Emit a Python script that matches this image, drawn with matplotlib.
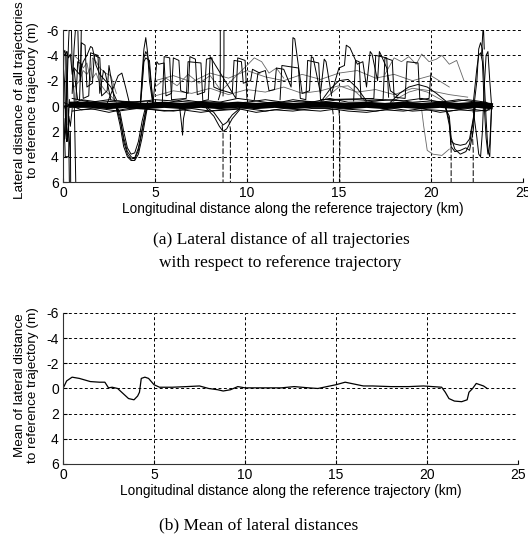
import matplotlib
matplotlib.use('Agg')
import matplotlib.pyplot as plt

plt.rcParams['font.family'] = ['Liberation Sans', 'DejaVu Sans']
plt.rcParams['axes.unicode_minus'] = False

# ---- data ----
x_ticks = [0, 5, 10, 15, 20, 25]
y_ticks = [-6, -4, -2, 0, 2, 4, 6]

# central band of trajectories
band_x1 = [0, 1, 2, 3, 4, 5, 6, 7, 8, 9, 10, 11, 12, 13, 14, 15, 16, 17, 18, 19, 20, 21, 22, 23, 23.3]
band_a = [0.2, -0.5, -0.3, -0.4, -0.3, -0.5, -0.4, -0.3, -0.4, -0.2, -0.3, -0.5, -0.3, -0.4, -0.3, -0.5, -0.5, -0.4, -0.5, -0.3, -0.4, -0.3, -0.5, -0.3, 0.0]
band_b = [-0.3, 0.3, 0.2, 0.4, 0.2, 0.3, 0.4, 0.2, 0.4, 0.3, 0.2, 0.4, 0.2, 0.3, 0.4, 0.2, 0.3, 0.4, 0.2, 0.4, 0.3, 0.4, 0.2, 0.4, 0.1]
band_f = [0.0, -0.1, 0.1, 0.0, -0.1, 0.1, 0.0, 0.1, -0.1, 0.0, 0.1, -0.1, 0.0, 0.1, 0.0, -0.1, 0.1, 0.0, -0.1, 0.1, 0.0, -0.1, 0.1, 0.0, 0.0]
band_x2 = [0.5, 1.5, 2.5, 3.5, 4.5, 5.5, 6.5, 7.5, 8.5, 9.5, 10.5, 11.5, 12.5, 13.5, 14.5, 15.5, 16.5, 17.5, 18.5, 19.5, 20.5, 21.5, 22.5, 23.2]
band_c = [-0.6, -0.3, -0.5, -0.3, -0.4, -0.2, -0.5, -0.3, -0.3, -0.6, -0.4, -0.2, -0.5, -0.3, -0.6, -0.3, -0.3, -0.5, -0.4, -0.6, -0.3, -0.5, -0.3, -0.2]
band_d = [0.4, 0.2, 0.5, 0.2, 0.2, 0.4, 0.3, 0.5, 0.3, 0.2, 0.5, 0.3, 0.4, 0.2, 0.2, 0.4, 0.5, 0.3, 0.4, 0.2, 0.5, 0.3, 0.4, 0.3]
band_e = [-0.1, -0.1, 0.0, -0.1, 0.0, -0.1, 0.0, -0.1, 0.0, -0.1, 0.0, -0.1, 0.0, -0.1, -0.1, 0.0, -0.1, 0.0, -0.1, 0.0, -0.1, 0.0, -0.1, 0.0]

# left edge (0 - 1 km)
edge_x1 = [0.0, 0.05, 0.1, 0.15, 0.2, 0.25, 0.3, 0.35]
edge_y1 = [0.0, -4.2, -4.4, -4.0, 2.8, 2.5, 1.0, 6.5]
edge_x2 = [0.0, 0.1, 0.12, 0.3, 0.4, 0.42, 0.5]
edge_y2 = [0.5, 3.0, 4.0, 4.0, 2.0, 6.5, 6.5]
edge_x3 = [0.2, 0.3, 0.35, 0.45, 0.5, 0.6, 0.65, 0.7]
edge_y3 = [-0.5, -5.0, -6.5, -6.5, -3.0, -1.0, 2.5, 6.5]
edge_x4 = [0.5, 0.6, 0.7, 0.8, 0.85, 0.95, 1.0, 1.1]
edge_y4 = [-1.0, -4.5, -6.5, -6.5, -3.5, -2.0, -6.5, -6.5]
edge_x5 = [0.0, 0.08, 0.15, 0.22, 0.28, 0.35]
edge_y5 = [-3.5, -2.0, 2.0, -4.3, 1.5, -0.5]
edge_x6 = [0.0, 0.1, 0.2, 0.3, 0.4, 0.5, 0.6, 0.7, 0.8]
edge_y6 = [-4.2, -4.0, -4.3, -3.8, -4.1, -2.5, -3.0, -1.5, -0.5]
edge_x7 = [0.05, 0.1, 0.18, 0.25, 0.32, 0.4, 0.5]
edge_y7 = [1.0, 2.6, 1.5, 2.8, 0.8, 1.6, 0.2]

# upper wandering lines 0.6 - 3.6 km
up_x = [0.6, 0.9, 1.1, 1.3, 1.5, 1.6, 1.8, 2.0, 2.3, 2.6, 2.9]
up_a = [-3.0, -2.5, -3.5, -4.0, -4.7, -4.6, -3.2, -2.5, -2.0, -1.5, -0.5]
up_b = [-1.5, -2.0, -2.8, -2.5, -3.0, -2.2, -2.6, -1.8, -1.2, -0.8, -0.3]
up_c = [-4.0, -3.6, -3.0, -3.4, -2.0, -3.8, -3.5, -3.0, -2.6, -2.4, -1.0]
hump_x = [2.4, 2.7, 3.0, 3.2, 3.4, 3.6]
hump_y = [-0.2, -1.3, -2.4, -2.6, -1.5, -0.3]
comb_fx = [0.9, 1.0, 1.2, 1.3, 1.6, 1.7, 2.0, 2.1, 2.4, 2.5, 2.8]
comb_fy = [-0.5, -5.0, -4.8, -1.5, -1.8, -4.0, -3.8, -0.8, -1.2, -3.2, -0.4]
comb_ix = [0.7, 0.8, 1.0, 1.1, 1.4, 1.5, 1.9, 2.0, 2.2, 2.3, 2.6]
comb_iy = [-0.3, -3.5, -3.3, -0.6, -0.8, -4.2, -4.0, -1.0, -2.8, -2.6, -0.5]

# detour 3 - 4.6 km
dip1_x = [2.9, 3.1, 3.3, 3.5, 3.7, 3.9, 4.1, 4.3, 4.5, 4.6]
dip1_a = [0.0, 0.8, 2.8, 3.8, 4.2, 4.1, 3.3, 1.8, 0.3, -0.2]
dip1_b = [0.2, 1.5, 3.2, 4.0, 4.3, 4.3, 3.8, 2.5, 0.8, 0.0]
dip1_c = [0.0, 0.5, 2.0, 3.3, 3.8, 3.7, 2.8, 1.2, 0.0, -0.3]
dip1_d = [0.1, 1.1, 2.5, 3.6, 4.0, 4.2, 3.5, 2.0, 0.5, 0.1]
spike1_x = [4.2, 4.3, 4.4, 4.5, 4.6, 4.7, 4.9]
spike1_a = [0.0, -2.5, -4.5, -5.4, -4.2, -2.0, 0.0]
spike1_b = [0.2, -2.0, -3.8, -4.3, -4.0, -3.0, -0.2]
spike1_c = [0.0, -1.5, -3.5, -3.8, -3.7, -3.6, 0.1]

# small spike at 6.5 km and detour at 8.7 km
spike2_x = [6.35, 6.45, 6.5, 6.55, 6.65]
spike2_y = [0.2, 1.5, 2.3, 1.0, 0.3]
dip2_x = [7.8, 8.2, 8.5, 8.7, 8.9, 9.2, 9.6]
dip2_a = [0.2, 0.8, 1.6, 2.0, 1.8, 1.0, 0.3]
dip2_b = [0.1, 0.5, 1.1, 1.5, 1.3, 0.7, 0.2]
top_x1 = [8.45, 8.55, 8.55]
top_y1 = [-0.5, -1.0, -6.5]
top_x2 = [8.7, 8.75, 8.75]
top_y2 = [-0.8, -3.0, -6.5]
down_x1 = [8.65, 8.7, 8.7]
down_y1 = [1.5, 2.2, 6.5]
down_x2 = [9.0, 9.1, 9.1]
down_y2 = [1.0, 1.8, 6.5]
down_x3 = [14.65, 14.7, 14.7]
down_y3 = [0.2, 0.8, 6.5]
down_x4 = [15.0, 15.05, 15.05]
down_y4 = [0.3, 1.5, 6.5]

# upper comb-like lines 5 - 21.8 km
comb_ax = [4.9, 5.1, 5.2, 5.5, 5.6, 5.9, 6.0, 6.3, 6.4, 6.8, 6.9, 7.2, 7.3, 7.7, 7.8, 8.1, 8.2, 8.5, 9.2, 9.3, 9.7, 9.8, 10.2, 10.3, 10.7]
comb_ay = [-0.3, -3.5, -3.3, -3.4, -0.8, -1.0, -3.8, -3.6, -1.2, -1.0, -3.9, -3.7, -0.9, -1.1, -3.7, -3.8, -1.5, -1.3, -1.0, -3.6, -3.5, -1.8, -2.0, -2.9, -2.6]
comb_bx = [10.4, 10.6, 11.0, 11.2, 11.5, 11.6, 12.0, 12.4, 12.5, 12.6, 13.0, 13.4, 13.5, 13.6, 14.0, 14.2, 14.3, 14.6]
comb_by = [-0.5, -2.6, -2.8, -1.2, -1.3, -3.0, -2.9, -1.5, -5.4, -5.3, -1.0, -1.2, -3.9, -3.8, -1.0, -3.7, -3.5, -0.8]
comb_cx = [14.6, 15.0, 15.3, 15.4, 15.6, 16.0, 16.3, 16.5, 16.7, 16.8, 17.1, 17.2, 17.3, 17.6, 17.8, 18.2]
comb_cy = [-1.0, -3.0, -3.2, -4.8, -4.6, -3.3, -3.5, -1.5, -4.3, -4.1, -2.0, -4.3, -4.0, -3.0, -1.2, -0.8]
comb_dx = [17.5, 18.0, 18.4, 18.8, 19.2, 19.5, 19.9, 20.3, 20.6, 21.0, 21.4, 21.8]
comb_dy = [-2.5, -3.8, -3.5, -3.9, -3.3, -4.1, -3.5, -3.7, -4.0, -3.3, -3.6, -2.0]
comb_ex = [5.0, 5.6, 6.2, 6.8, 7.4, 8.0, 8.6, 9.5, 10.0, 10.4, 10.8, 11.2, 11.6, 12.0]
comb_ey = [-1.5, -2.2, -1.6, -2.5, -1.8, -2.4, -1.2, -2.5, -3.2, -3.8, -3.5, -2.6, -3.0, -2.2]
comb_gx = [5.4, 5.5, 5.8, 5.9, 6.7, 6.8, 7.5, 7.6, 7.9, 8.0, 9.4, 9.5, 9.9, 10.0]
comb_gy = [-0.3, -3.9, -3.8, -0.5, -0.6, -3.5, -3.4, -0.4, -0.5, -3.9, -0.6, -3.8, -3.6, -0.6]
comb_hx = [15.8, 15.9, 16.1, 16.2, 17.4, 17.5, 17.9, 18.0, 18.6, 18.7, 19.3, 19.4, 19.9, 20.0]
comb_hy = [-0.4, -3.6, -3.5, -0.6, -0.5, -3.8, -3.6, -0.7, -0.6, -3.5, -3.4, -0.5, -0.6, -2.6]
comb_jx = [11.8, 11.9, 12.8, 12.9, 13.2, 13.3, 13.9, 14.0, 16.9, 17.0, 17.6, 17.7]
comb_jy = [-0.5, -3.2, -3.0, -0.6, -0.5, -3.6, -3.4, -0.5, -0.6, -4.0, -3.8, -0.7]
mid_x = [5, 6, 7, 8, 9, 10, 11, 12, 13, 14, 15, 16, 17, 18, 19, 20, 21, 22]
mid_y = [-0.8, -1.2, -1.0, -1.4, -0.9, -1.3, -1.1, -1.5, -1.0, -1.2, -1.6, -1.1, -1.3, -0.9, -1.4, -1.2, -0.9, -0.7]
gray2_x = [5, 6, 7, 8, 9, 10, 11, 12, 13, 14, 15, 16, 17, 18, 19, 20, 21]
gray2_y = [-2.0, -2.4, -1.9, -2.6, -2.2, -2.8, -2.3, -2.0, -2.5, -2.1, -2.6, -2.8, -2.2, -2.5, -2.0, -2.4, -1.5]

# bumps above the band
bump1_x = [14.0, 14.5, 15.0, 15.5, 16.0, 16.5]
bump1_a = [-0.3, -1.3, -2.0, -2.1, -1.4, -0.4]
bump1_b = [-0.2, -0.9, -1.5, -1.6, -1.0, -0.3]
bump2_x = [17.8, 18.3, 18.8, 19.3, 19.8, 20.3, 20.8]
bump2_a = [-0.3, -1.0, -1.5, -1.7, -1.5, -1.0, -0.4]
bump2_b = [-0.2, -0.7, -1.1, -1.3, -1.1, -0.7, -0.3]

# detour 21 - 22.4 km
dip3_x = [20.8, 21.0, 21.1, 21.3, 21.6, 21.9, 22.1, 22.3, 22.4]
dip3_a = [0.1, 1.5, 3.2, 3.6, 3.5, 3.3, 3.5, 2.0, 0.0]
dip3_b = [0.2, 0.8, 2.5, 3.4, 3.8, 3.6, 3.0, 1.2, -0.3]
dip3_c = [0.0, 1.2, 2.8, 3.0, 3.1, 3.0, 2.6, 1.0, 0.1]
loose_x = [19.5, 19.6, 19.8, 20.1, 20.6, 21.0]
loose_y = [0.3, 1.5, 3.5, 3.8, 3.9, 3.4]
down_x5 = [21.05, 21.1, 21.1]
down_y5 = [2.0, 3.5, 6.5]
down_x6 = [22.25, 22.3, 22.3]
down_y6 = [2.0, 3.5, 6.5]

# swing 22.3 - 23.3 km
swing_x = [22.3, 22.5, 22.6, 22.7, 22.8, 22.9, 23.0, 23.1, 23.2, 23.3]
swing_a = [0.5, -2.0, -4.5, -5.0, -4.5, -2.0, 1.0, 3.5, 4.0, 0.0]
swing_b = [-0.2, -3.0, -4.0, -4.2, -3.5, 0.0, 2.5, 3.8, 3.0, 0.0]
swing_c = [0.3, 2.5, 3.8, 4.0, 2.0, -1.5, -4.0, -4.3, -2.0, 0.0]
top_x3 = [22.75, 22.85, 22.9]
top_y3 = [-4.0, -6.5, -4.5]

# mean of lateral distances
mean_x = [0.0, 0.2, 0.5, 0.9, 1.5, 2.0, 2.3, 2.5, 2.7, 3.0, 3.3, 3.6, 3.9, 4.1, 4.2, 4.3, 4.5, 4.7, 5.0, 5.3, 6.0, 6.8, 7.5, 8.0, 8.5, 8.8, 9.2, 9.6, 10.0, 11.0, 12.0, 12.7, 13.5, 14.0, 14.5, 15.0, 15.5, 16.0, 16.5, 17.0, 18.0, 19.0, 19.8, 20.3, 20.8, 21.0, 21.2, 21.5, 21.9, 22.2, 22.3, 22.5, 22.7, 22.9, 23.1, 23.3]
mean_y = [0.0, -0.6, -0.9, -0.8, -0.55, -0.5, -0.5, -0.05, -0.1, 0.0, 0.4, 0.8, 0.9, 0.6, 0.3, -0.8, -0.9, -0.8, -0.3, -0.1, -0.1, -0.15, -0.2, 0.0, 0.1, 0.2, 0.1, -0.15, -0.05, -0.05, -0.05, -0.15, -0.05, 0.0, -0.15, -0.3, -0.5, -0.35, -0.2, -0.2, -0.15, -0.15, -0.2, -0.15, -0.1, 0.3, 0.8, 1.0, 1.05, 0.9, 0.3, 0.0, -0.4, -0.3, -0.2, 0.0]

# ---- figure ----
fig = plt.figure(figsize=(5.28, 5.39), dpi=100)
ax1 = fig.add_axes([0.1193, 0.6623, 0.871, 0.282])
ax2 = fig.add_axes([0.1193, 0.1392, 0.862, 0.2801])

lw = 0.7
black_lines = [
    (band_x1, band_a), (band_x1, band_b), (band_x1, band_f), (band_x2, band_c), (band_x2, band_d),
    (edge_x1, edge_y1), (edge_x2, edge_y2), (edge_x3, edge_y3), (edge_x4, edge_y4), (edge_x5, edge_y5),
    (edge_x6, edge_y6), (edge_x7, edge_y7),
    (up_x, up_a), (hump_x, hump_y), (comb_fx, comb_fy), (comb_ix, comb_iy),
    (dip1_x, dip1_a), (dip1_x, dip1_b), (dip1_x, dip1_c), (dip1_x, dip1_d),
    (spike1_x, spike1_a), (spike1_x, spike1_b), (spike1_x, spike1_c),
    (spike2_x, spike2_y), (dip2_x, dip2_a), (dip2_x, dip2_b),
    (top_x1, top_y1), (top_x2, top_y2),
    (comb_ax, comb_ay), (comb_bx, comb_by), (comb_cx, comb_cy), (comb_gx, comb_gy), (comb_hx, comb_hy),
    (comb_jx, comb_jy),
    (bump1_x, bump1_a), (bump2_x, bump2_a),
    (dip3_x, dip3_a), (dip3_x, dip3_b), (dip3_x, dip3_c),
    (swing_x, swing_a), (swing_x, swing_b), (swing_x, swing_c), (top_x3, top_y3),
]
gray_lines = [
    (up_x, up_b), (up_x, up_c), (comb_dx, comb_dy), (comb_ex, comb_ey), (gray2_x, gray2_y),
    (mid_x, mid_y), (bump1_x, bump1_b), (bump2_x, bump2_b), (loose_x, loose_y),
]
dashed_lines = [
    (down_x1, down_y1), (down_x2, down_y2), (down_x3, down_y3), (down_x4, down_y4),
    (down_x5, down_y5), (down_x6, down_y6),
]

for xs, ys in gray_lines:
    ax1.plot(xs, ys, color='#666666', lw=0.6)
for xs, ys in black_lines:
    ax1.plot(xs, ys, color='black', lw=lw)
for xs, ys in dashed_lines:
    ax1.plot(xs, ys, color='black', lw=lw, ls=(0, (6, 2)))
ax1.plot(band_x2, band_e, color='black', lw=4.5)

ax2.plot(mean_x, mean_y, color='black', lw=0.9)

for ax in (ax1, ax2):
    ax.set_xlim(0, 25)
    ax.set_ylim(6, -6)
    ax.set_xticks(x_ticks)
    ax.set_yticks(y_ticks)
    ax.grid(True, color='black', ls=(0, (3, 2.5)), lw=0.7)
    ax.spines['top'].set_visible(False)
    ax.spines['right'].set_visible(False)
    ax.spines['left'].set_color('#333333')
    ax.spines['bottom'].set_color('#333333')
    ax.tick_params(direction='in', length=3, labelsize=10, pad=3)
    ax.set_xlabel('Longitudinal distance along the reference trajectory (km)', fontsize=9.8, labelpad=1)

ax1.set_ylabel('Lateral distance of all trajectories\nto reference trajectory (m)', fontsize=9.7, linespacing=1.1)
ax2.set_ylabel('Mean of lateral distance\nto reference trajectory (m)', fontsize=9.7, linespacing=1.1)
ax1.yaxis.set_label_coords(-0.052, 0.54)
ax2.yaxis.set_label_coords(-0.052, 0.52)

fig.text(0.532, 1 - 240 / 539, '(a) Lateral distance of all trajectories', ha='center', va='center',
         family='Liberation Serif', fontsize=12.5)
fig.text(0.530, 1 - 263 / 539, 'with respect to reference trajectory', ha='center', va='center',
         family='Liberation Serif', fontsize=12.5)
fig.text(0.490, 1 - 525 / 539, '(b) Mean of lateral distances', ha='center', va='center',
         family='Liberation Serif', fontsize=12.5)

fig.savefig('out.png', dpi=100)
